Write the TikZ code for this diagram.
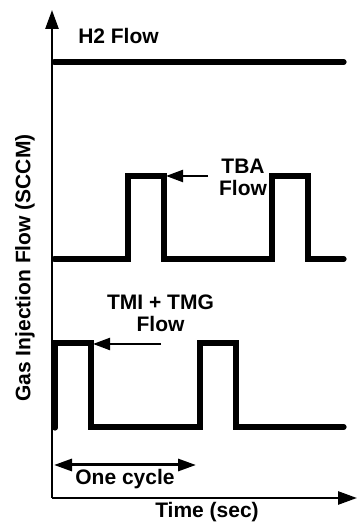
\documentclass[tikz,border=0pt]{standalone}
\usepackage{fontspec}
\setmainfont{Liberation Sans}
\usetikzlibrary{arrows.meta}
\begin{document}
\begin{tikzpicture}[x=1pt,y=1pt,
  lbl/.style={font=\fontsize{21}{23}\selectfont\bfseries, inner sep=0pt, align=center},
  axis/.style={line width=2.6pt, -{Triangle[length=19pt,width=13pt]}},
  trace/.style={line width=5.2pt, line cap=round, line join=miter},
  pointer/.style={line width=2.2pt, -{Triangle[length=17pt,width=12pt]}},
  cycle/.style={line width=3pt, {Triangle[length=18pt,width=12pt]}-{Triangle[length=18pt,width=12pt]}}]
\useasboundingbox (0,0) rectangle (358,526);
% axes
\coordinate (O) at (52,28);
\coordinate (Ytop) at (52,516);
\coordinate (Xend) at (357,28);
\draw[axis] (O) -- (Ytop);
\draw[axis] (O) -- (Xend);
% H2 trace
\coordinate (h0) at (54,464);
\coordinate (h1) at (344,464);
\draw[trace] (h0) -- (h1);
% TBA trace
\coordinate (b0) at (54,267);
\draw[trace] (b0) -- (128,267) -- (128,350) -- (164,350) -- (164,267) -- (272,267) -- (272,350) -- (308,350) -- (308,267) -- (344,267);
% TMI trace
\coordinate (m0) at (55,98);
\draw[trace] (m0) -- (55,183) -- (91,183) -- (91,99) -- (200,99) -- (200,183) -- (236,183) -- (236,99) -- (344,99);
% labels
\node[lbl] (h2) at (118.5,490) {H2 Flow};
\node[lbl] (tba) at (243,349) {TBA\\[-1pt]Flow};
\node[lbl] (tmi) at (160.5,213) {TMI + TMG\\[-1pt]Flow};
\node[lbl] (time) at (207,14) {Time (sec)};
\node[lbl, rotate=90] (ylab) at (25,258) {Gas Injection Flow (SCCM)};
\node[lbl] (one) at (125,47) {One cycle};
% pointers
\coordinate (tbaS) at (208,350);
\coordinate (tbaE) at (166,350);
\draw[pointer] (tbaS) -- (tbaE);
\coordinate (tmiS) at (161,182);
\coordinate (tmiE) at (93,182);
\draw[pointer] (tmiS) -- (tmiE);
% one cycle
\coordinate (c0) at (54,61);
\coordinate (c1) at (196,61);
\draw[cycle] (c0) -- (c1);
\end{tikzpicture}
\end{document}
